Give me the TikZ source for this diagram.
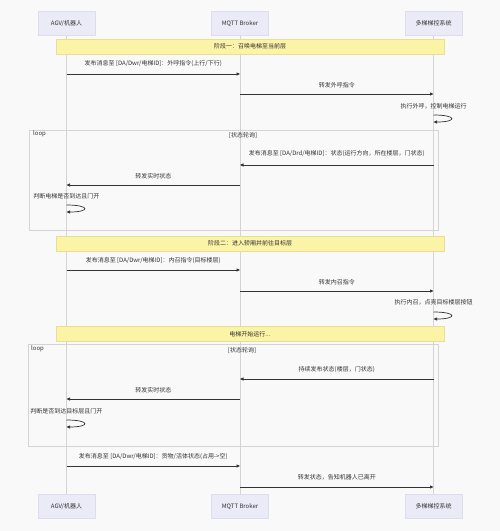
\documentclass[tikz,border=0pt]{standalone}
\usepackage{fontspec}
\setmainfont{Noto Sans CJK SC}
\usetikzlibrary{arrows.meta}
\definecolor{bg}{HTML}{F9F9F9}
\definecolor{actfill}{HTML}{EBEBF7}
\definecolor{actline}{HTML}{DDDDEE}
\definecolor{notefill}{HTML}{FBF3A6}
\definecolor{noteline}{HTML}{E9DF94}
\definecolor{life}{HTML}{D4D4D4}
\definecolor{txt}{HTML}{333333}

\begin{document}
\begin{tikzpicture}[x=1pt,y=-1pt,
    a/.style={draw=actline,fill=actfill,minimum width=57pt,minimum height=24pt,inner sep=0pt,
      font=\fontsize{6}{7}\selectfont,text=txt},
    nt/.style={draw=noteline,fill=notefill,minimum width=388pt,minimum height=15pt,inner sep=0pt,
      font=\fontsize{6}{7}\selectfont,text=txt},
    l/.style={font=\fontsize{6}{7}\selectfont,text=txt,inner sep=0pt},
    m/.style={draw=txt,line width=0.7pt,-{Triangle[length=3.5pt,width=3pt]}},
    ll/.style={draw=life,line width=0.5pt},
    lp/.style={draw=life,line width=0.5pt}]
    \fill[bg] (0,0) rectangle (500,531);
    % actors
    \node[a] (agv) at (66.5,23.5) {AGV/机器人};
    \node[a] (mq) at (240,23.5) {MQTT Broker};
    \node[a] (ctl) at (433.5,23.5) {多梯梯控系统};
    \node[a] (agv2) at (66.5,506.5) {AGV/机器人};
    \node[a] (mq2) at (240,506.5) {MQTT Broker};
    \node[a] (ctl2) at (433.5,506.5) {多梯梯控系统};
    \draw[ll] (agv) -- (agv2);
    \draw[ll] (mq) -- (mq2);
    \draw[ll] (ctl) -- (ctl2);

    % stage 1
    \node[nt] (n1) at (250,46.5) {阶段一：召唤电梯至当前层};
    \draw[m] (agv |- 0,74) -- node[l,above=7pt] {发布消息至 [DA/Dwr/电梯ID]：外呼指令(上行/下行)} (mq |- 0,74);
    \draw[m] (mq |- 0,94) -- node[l,above=5.5pt] {转发外呼指令} (ctl |- 0,94);
    \node[l] (s1) at (ctl |- 0,106) {执行外呼，控制电梯运行};
    \draw[m] (ctl |- 0,115) .. controls +(24,0) and +(24,0) .. (ctl |- 0,122);

    % loop 1
    \draw[lp] (29,130) rectangle (438,230);
    \node[l,anchor=west] (lp1) at (33,134) {loop};
    \node[l] (c1) at (243,135) {[状态轮询]};
    \draw[m] (ctl |- 0,165) -- node[l,above=8pt] {发布消息至 [DA/Drd/电梯ID]：状态(运行方向，所在楼层，门状态)} (mq |- 0,165);
    \draw[m] (mq |- 0,185) -- node[l,above=6pt] {转发实时状态} (agv |- 0,185);
    \node[l] (s2) at (agv |- 0,196) {判断电梯是否到达且门开};
    \draw[m] (agv |- 0,205) .. controls +(24,0) and +(24,0) .. (agv |- 0,212);

    % stage 2
    \node[nt] (n2) at (250,243.5) {阶段二：进入轿厢并前往目标层};
    \draw[m] (agv |- 0,270) -- node[l,above=6pt] {发布消息至 [DA/Dwr/电梯ID]：内召指令(目标楼层)} (mq |- 0,270);
    \draw[m] (mq |- 0,291) -- node[l,above=6pt] {转发内召指令} (ctl |- 0,291);
    \node[l] (s3) at (ctl |- 0,302) {执行内召，点亮目标楼层按钮};
    \draw[m] (ctl |- 0,312) .. controls +(24,0) and +(24,0) .. (ctl |- 0,319);
    \node[nt] (n3) at (250,334) {电梯开始运行...};

    % loop 2
    \draw[lp] (28,344) rectangle (438,446);
    \node[l,anchor=west] (lp2) at (31,349) {loop};
    \node[l] (c2) at (242,350) {[状态轮询]};
    \draw[m] (ctl |- 0,379) -- node[l,above=6pt] {持续发布状态(楼层，门状态)} (mq |- 0,379);
    \draw[m] (mq |- 0,399) -- node[l,above=6pt] {转发实时状态} (agv |- 0,399);
    \node[l] (s4) at (agv |- 0,411) {判断是否到达目标层且门开};
    \draw[m] (agv |- 0,420) .. controls +(24,0) and +(24,0) .. (agv |- 0,427);

    % leave
    \draw[m] (agv |- 0,466) -- node[l,above=6pt] {发布消息至 [DA/Dwr/电梯ID]：货物/活体状态(占用->空)} (mq |- 0,466);
    \draw[m] (mq |- 0,487) -- node[l,above=7pt] {转发状态，告知机器人已离开} (ctl |- 0,487);
\end{tikzpicture}
\end{document}
